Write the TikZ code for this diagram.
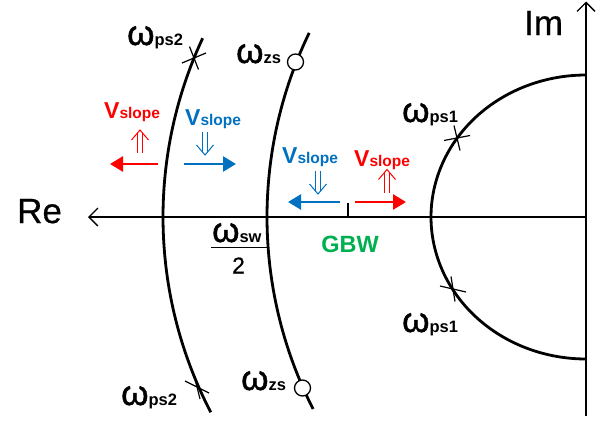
\documentclass[tikz,border=0pt]{standalone}
\usepackage{fontspec}
\setmainfont{Liberation Sans}
\newfontfamily\heavyfont[FakeBold=1.2]{Liberation Sans}
\newfontfamily\semiheavyfont[FakeBold=0.5]{Liberation Sans}
\usetikzlibrary{arrows.meta}

\definecolor{slopered}{RGB}{255,0,0}
\definecolor{slopeblue}{RGB}{0,112,192}
\definecolor{gbwgreen}{RGB}{0,176,80}

% omega with a bold subscript
\newcommand{\omsub}[1]{{\heavyfont\fontsize{35}{35}\selectfont ω}{\bfseries\fontsize{16.5}{16.5}\selectfont #1}}
% V_slope label
\newcommand{\vslope}{{\bfseries\fontsize{23}{23}\selectfont V}{\bfseries\fontsize{15.5}{15.5}\selectfont slope}}

\tikzset{
  axisline/.style={line width=2.4pt},
  locus/.style={line width=2.8pt},
  xmark/.style={line width=1.2pt},
  zeromark/.style={line width=1.3pt, fill=white},
  lab/.style={inner sep=0pt, anchor=base west},
  shiftarrow/.style={line width=2.6pt, -{Triangle[length=13pt,width=15pt]}},
  dblup/.pic={
    \draw[line width=1pt] (-8.5,-1.5) -- (0,-11.5) -- (8.5,-1.5);
    \draw[line width=1pt] (-2.6,-8.5) -- (-2.6,11.5) (2.6,-8.5) -- (2.6,11.5);
  },
  dbldown/.pic={
    \draw[line width=1pt] (-8.5,1.5) -- (0,11.5) -- (8.5,1.5);
    \draw[line width=1pt] (-2.6,8.5) -- (-2.6,-11.5) (2.6,8.5) -- (2.6,-11.5);
  },
}

\begin{document}
\begin{tikzpicture}[x=1pt,y=-1pt]
\useasboundingbox (0,0) rectangle (605,423);

% axes
\coordinate (origin) at (586,217);
\coordinate (reEnd) at (88,217);
\coordinate (imBottom) at (586,416);
\coordinate (imEnd) at (586,1.5);
\draw[axisline, -{Straight Barb[length=9pt,width=18pt,line width=1.4pt]}] (origin) -- (reEnd);
\draw[axisline, -{Straight Barb[length=9pt,width=18pt,line width=1.4pt]}] (imBottom) -- (imEnd);

\node[lab] (re) at (17,223) {\semiheavyfont\fontsize{35}{35}\selectfont Re};
\node[lab] (im) at (524,35) {\semiheavyfont\fontsize{35}{35}\selectfont Im};

% pole locus ps2 (circle about the origin)
\draw[locus] plot[domain=25:-27.5, samples=80, smooth] ({586-423*cos(\x)}, {217-423*sin(\x)});
% zero locus zs (same circle moved right)
\draw[locus] plot[domain=25.8:-27, samples=80, smooth] ({690-423*cos(\x)}, {217-423*sin(\x)});
% pole locus ps1 (half ellipse)
\draw[locus] plot[domain=90:270, samples=120, smooth] ({586+155*cos(\x)}, {217-142*sin(\x)});

% pole markers
\coordinate (ps2top) at (194,58);
\coordinate (ps2bot) at (197,387);
\coordinate (ps1top) at (457,138);
\coordinate (ps1bot) at (453,289);
\draw[xmark] (ps2top) +(-12,5) -- +(12,-5) (ps2top) +(-4.5,-11.5) -- +(4.5,11.5);
\draw[xmark] (ps2bot) +(-12,-6) -- +(12,6) (ps2bot) +(-3,-12) -- +(3,12);
\draw[xmark] (ps1top) +(-13,2.5) -- +(13,-2.5) (ps1top) +(-3,-12.5) -- +(3,12.5);
\draw[xmark] (ps1bot) +(-13,-3) -- +(13,3) (ps1bot) +(-2,-12.5) -- +(2,12.5);

% zero markers
\node[zeromark, draw, circle, minimum size=16pt, inner sep=0pt] (zstop) at (295.5,62) {};
\node[zeromark, draw, circle, minimum size=16pt, inner sep=0pt] (zsbot) at (302.5,388) {};

% labels of poles and zeros
\node[lab] (lps2top) at (127,45) {\omsub{ps2}};
\node[lab] (lzstop) at (236,63) {\omsub{zs}};
\node[lab] (lps2bot) at (121,405) {\omsub{ps2}};
\node[lab] (lzsbot) at (241,390) {\omsub{zs}};
\node[lab] (lps1top) at (402,122) {\omsub{ps1}};
\node[lab] (lps1bot) at (402,332) {\omsub{ps1}};

% omega_sw / 2
\node[lab] (wsw) at (212,242) {\omsub{sw}};
\coordinate (barL) at (211,247.5);
\coordinate (barR) at (267,247.5);
\draw[line width=1.4pt] (barL) -- (barR);
\node[inner sep=0pt, anchor=base] (two) at (238.5,273.5) {\semiheavyfont\fontsize{23}{23}\selectfont 2};

% GBW tick and label
\coordinate (gbwTick) at (348,203);
\coordinate (gbwAxis) at (348,217);
\draw[axisline] (gbwTick) -- (gbwAxis);
\node[inner sep=0pt, anchor=base, text=gbwgreen] (gbw) at (350,252.5) {\bfseries\fontsize{23.5}{23.5}\selectfont GBW};

% slope labels
\node[lab, text=slopered] (vs1) at (104,118) {\vslope};
\node[lab, text=slopeblue] (vs2) at (185,125) {\vslope};
\node[lab, text=slopeblue] (vs3) at (282,163.5) {\vslope};
\node[lab, text=slopered] (vs4) at (354,166.5) {\vslope};

% double arrows
\pic[color=slopered] at (140,141.5) {dblup};
\pic[color=slopeblue] at (205,143.5) {dbldown};
\pic[color=slopeblue] at (318,182.5) {dbldown};
\pic[color=slopered] at (387,181) {dblup};

% shift arrows
\coordinate (a1s) at (158,164); \coordinate (a1e) at (110,164);
\coordinate (a2s) at (184,164); \coordinate (a2e) at (236,164);
\coordinate (a3s) at (340,202); \coordinate (a3e) at (288,202);
\coordinate (a4s) at (355,202); \coordinate (a4e) at (406,202);
\draw[shiftarrow, slopered] (a1s) -- (a1e);
\draw[shiftarrow, slopeblue] (a2s) -- (a2e);
\draw[shiftarrow, slopeblue] (a3s) -- (a3e);
\draw[shiftarrow, slopered] (a4s) -- (a4e);
\end{tikzpicture}
\end{document}
